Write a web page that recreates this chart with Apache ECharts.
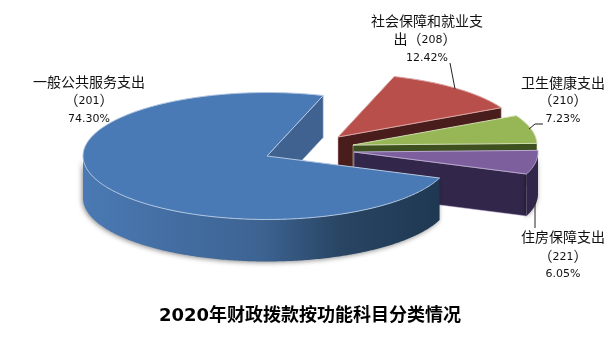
<!DOCTYPE html>
<html>
<head>
<meta charset="utf-8">
<style>
  html, body { margin: 0; padding: 0; background: #fff; }
  #chart { width: 615px; height: 356px; }
</style>
<script src="https://cdn.jsdelivr.net/npm/echarts@6/dist/echarts.min.js"></script>
</head>
<body>
<div id="chart"></div>
<script>
// 2020 fiscal allocation by function
const names = ['一般公共服务支出', '社会保障和就业支出', '卫生健康支出', '住房保障支出'];
const codes = ['201', '208', '210', '221'];
const shares = [74.30, 12.42, 7.23, 6.05];

const chartTitle = '2020年财政拨款按功能科目分类情况';

// look of the tilted pie
const cx = 267, cy = 156, radius = 184;
const squash = 0.345, depth = 42;
const explode = [[0, 0], [71, -19], [86, -11], [87, -4]];
const topColors = ['#4a7ab5', '#b94f4b', '#97b655', '#7d5f9e'];
const wallColors = ['#3f6290', '#4a1d1d', '#3e5020', '#32274a'];
const edgeColors = ['#b4c8e2', '#d9a5a3', '#cfdcae', '#b9a9cf'];

const font = '"DejaVu Sans", "Noto Sans CJK SC", sans-serif';

const chart = echarts.init(document.getElementById('chart'), null, { renderer: 'canvas' });

// running totals, so each slice knows where it starts and ends
const rows = [];
let total = 0;
shares.forEach(function (v, i) {
  rows.push([total, total + v, i]);
  total += v;
});
// the big slice sits in front of the pulled out ones
const drawOrder = [rows[1], rows[2], rows[3], rows[0]];

function renderSlice(params, api) {
  const from = api.value(0), to = api.value(1), i = api.value(2);
  const off = explode[i];

  function pt(r, v) {
    const p = api.coord([r, v]);
    return [p[0] + off[0], cy + (p[1] - cy) * squash + off[1]];
  }

  const arc = [];
  const step = 0.2;
  for (let v = from; v < to; v += step) arc.push(pt(1, v));
  arc.push(pt(1, to));

  const center = pt(0, to);
  const end = pt(1, to);
  const children = [];

  // flat wall along the slice's closing edge
  children.push({
    type: 'polygon',
    shape: { points: [center, end, [end[0], end[1] + depth], [center[0], center[1] + depth]] },
    style: { fill: wallColors[i], stroke: edgeColors[i], lineWidth: 0.5 }
  });

  // outer rim, only the part that faces the viewer
  const front = arc.filter(function (p) { return p[1] >= cy + off[1]; });
  if (front.length > 1) {
    const lower = front.map(function (p) { return [p[0], p[1] + depth]; }).reverse();
    let rimFill = wallColors[i];
    if (i === 0) {
      rimFill = new echarts.graphic.LinearGradient(0, 0, 1, 0, [
        { offset: 0, color: '#4a79b3' },
        { offset: 0.5, color: '#3d6392' },
        { offset: 0.72, color: '#284563' },
        { offset: 1, color: '#1f3852' }
      ]);
    }
    children.push({
      type: 'polygon',
      shape: { points: front.concat(lower) },
      style: {
        fill: rimFill,
        shadowBlur: 5,
        shadowColor: 'rgba(0,0,0,0.45)',
        shadowOffsetX: -1,
        shadowOffsetY: 1
      }
    });
  }

  // top face
  children.push({
    type: 'polygon',
    shape: { points: [pt(0, from)].concat(arc) },
    style: { fill: topColors[i], stroke: edgeColors[i], lineWidth: 1 }
  });

  return { type: 'group', children: children };
}

function textEl(text, x, y, size) {
  return {
    type: 'text',
    z: 10,
    style: {
      text: text, x: x, y: y,
      align: 'center', verticalAlign: 'middle',
      font: size + 'px ' + font,
      fill: '#111',
      // wide brackets with small digits between them
      rich: {
        b: { font: '14px ' + font, fill: '#111' },
        n: { font: '11px ' + font, fill: '#111' }
      }
    }
  };
}

function leader(points) {
  return {
    type: 'polyline',
    z: 10,
    shape: { points: points },
    style: { stroke: '#222', lineWidth: 1, fill: null }
  };
}

function pct(i) {
  return shares[i].toFixed(2) + '%';
}
function code(i) {
  return '{b|（}{n|' + codes[i] + '}{b|）}';
}

const labels = [
  textEl(names[0], 89, 83, 14),
  textEl(code(0), 89, 101, 14),
  textEl(pct(0), 89, 119, 11),

  textEl(names[1].slice(0, -1), 427, 22, 14),
  textEl('{b|' + names[1].slice(-1) + '}' + code(1), 425, 40, 14),
  textEl(pct(1), 427, 58, 11),
  leader([[450, 63], [455, 89]]),

  textEl(names[2], 563, 84, 14),
  textEl(code(2), 563, 101, 14),
  textEl(pct(2), 563, 119, 11),
  leader([[529, 129], [535, 124], [543, 124]]),

  textEl(names[3], 563, 238, 14),
  textEl(code(3), 563, 257, 14),
  textEl(pct(3), 563, 274, 11),
  leader([[535, 202], [535, 228]])
];

const option = {
  animation: false,
  backgroundColor: '#fff',
  title: {
    text: chartTitle,
    left: 305,
    top: 311,
    textAlign: 'center',
    textVerticalAlign: 'middle',
    textStyle: {
      fontFamily: '"DejaVu Sans", "Noto Sans CJK SC", sans-serif',
      fontSize: 18,
      fontWeight: 'bold',
      color: '#000'
    }
  },
  polar: { center: [cx, cy], radius: radius },
  angleAxis: { type: 'value', min: 0, max: 100, startAngle: -20.3, show: false },
  radiusAxis: { type: 'value', min: 0, max: 1, show: false },
  graphic: labels,
  series: [{
    type: 'custom',
    coordinateSystem: 'polar',
    clip: false,
    silent: true,
    renderItem: renderSlice,
    data: drawOrder
  }]
};

chart.setOption(option);
</script>
</body>
</html>
